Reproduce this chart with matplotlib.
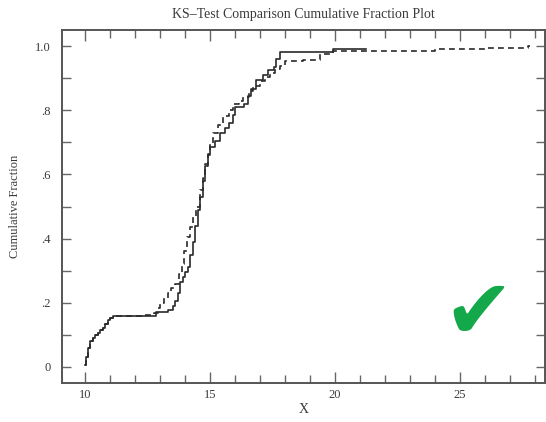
import numpy as np
import matplotlib
matplotlib.use("Agg")
import matplotlib.pyplot as plt
from matplotlib.ticker import MultipleLocator, FixedLocator

# -------------------------------
# DATA
# -------------------------------
# solid sample: step positions and cumulative fraction after each step
sol_x = [10.0, 10.04, 10.1, 10.2, 10.3, 10.4, 10.5, 10.6, 10.7, 10.8, 10.9,
         11.0, 11.1, 12.85, 13.3, 13.5, 13.6, 13.7, 13.8, 13.9, 14.0, 14.1,
         14.2, 14.3, 14.4, 14.5, 14.6, 14.7, 14.8, 14.9, 15.0, 15.2, 15.4,
         15.6, 15.75, 15.9, 16.0, 16.35, 16.5, 16.65, 16.85, 17.1, 17.3,
         17.55, 17.65, 17.8, 19.9, 21.25]
sol_y = [0.005, 0.03, 0.06, 0.08, 0.09, 0.10, 0.107, 0.115, 0.122, 0.135,
         0.145, 0.152, 0.158, 0.172, 0.178, 0.19, 0.205, 0.23, 0.265, 0.28,
         0.295, 0.31, 0.35, 0.39, 0.44, 0.49, 0.53, 0.58, 0.625, 0.66, 0.685,
         0.705, 0.73, 0.745, 0.76, 0.785, 0.81, 0.82, 0.845, 0.865, 0.895,
         0.91, 0.925, 0.935, 0.96, 0.98, 0.99, 0.99]

# dashed sample
dash_x = [10.0, 10.05, 10.1, 10.2, 10.3, 10.4, 10.5, 10.6, 10.7, 10.8, 10.9,
          11.0, 11.1, 12.4, 12.75, 12.9, 13.0, 13.15, 13.3, 13.45, 13.6,
          13.75, 13.87, 13.95, 14.07, 14.2, 14.33, 14.45, 14.6, 14.7, 14.8,
          14.9, 15.0, 15.13, 15.3, 15.53, 15.75, 15.93, 16.15, 16.33, 16.55,
          16.73, 17.0, 17.2, 17.4, 17.6, 17.8, 18.0, 18.7, 19.4, 19.9, 22.0,
          24.0, 26.0, 27.7, 27.8]
dash_y = [0.005, 0.03, 0.06, 0.08, 0.09, 0.10, 0.107, 0.115, 0.122, 0.135,
          0.145, 0.152, 0.158, 0.163, 0.168, 0.185, 0.2, 0.215, 0.229, 0.245,
          0.26, 0.29, 0.322, 0.36, 0.405, 0.435, 0.467, 0.5, 0.55, 0.59,
          0.633, 0.665, 0.695, 0.73, 0.755, 0.783, 0.80, 0.819, 0.83, 0.84,
          0.86, 0.876, 0.89, 0.905, 0.917, 0.928, 0.938, 0.953, 0.958, 0.974,
          0.984, 0.986, 0.99, 0.995, 1.0, 1.0]

y_ticks = [0.0, 0.2, 0.4, 0.6, 0.8, 1.0]
y_ticklabels = ["0", ".2", ".4", ".6", ".8", "1.0"]
x_ticks = [10, 15, 20, 25]

# -------------------------------
# PLOT
# -------------------------------
plt.rcParams["font.family"] = ["Liberation Serif", "DejaVu Serif"]
txt = "#3a3a3a"
spine = "#555555"

fig = plt.figure(figsize=(5.46, 4.22), dpi=100)
ax = fig.add_axes([0.1136, 0.0924, 0.8846, 0.8365])

ax.step(sol_x, sol_y, where="post", color="#2a2a2a", lw=1.2)
ax.step(dash_x, dash_y, where="post", color="#2a2a2a", lw=1.2,
        linestyle=(0, (3.5, 2.5)))

ax.set_xlim(9.08, 28.4)
ax.set_ylim(-0.05, 1.05)

ax.xaxis.set_major_locator(FixedLocator(x_ticks))
ax.xaxis.set_minor_locator(MultipleLocator(1))
ax.yaxis.set_major_locator(FixedLocator(y_ticks))
ax.yaxis.set_minor_locator(MultipleLocator(0.1))
ax.set_yticklabels(y_ticklabels)

ax.tick_params(which="both", direction="in", top=True, right=True,
               color="#666666", width=1.0, labelsize=9, labelcolor=txt)
ax.tick_params(axis="x", which="major", length=8, pad=4)
ax.tick_params(axis="x", which="minor", length=5.5)
ax.tick_params(axis="y", which="both", length=6.5, pad=8)

for s in ax.spines.values():
    s.set_color(spine)
    s.set_linewidth(1.4)

ax.set_title("KS\u2013Test Comparison Cumulative Fraction Plot",
             fontsize=10, color=txt, pad=9)
ax.set_xlabel("X", fontsize=10, color=txt, labelpad=2)
ax.set_ylabel("Cumulative Fraction", fontsize=9, color=txt, labelpad=10)

# green check mark overlay
ax.text(25.75, 0.165, "\u2714", fontsize=60, color="#13a84a",
        family="DejaVu Sans", ha="center", va="center")

fig.savefig("out.png", dpi=100)
